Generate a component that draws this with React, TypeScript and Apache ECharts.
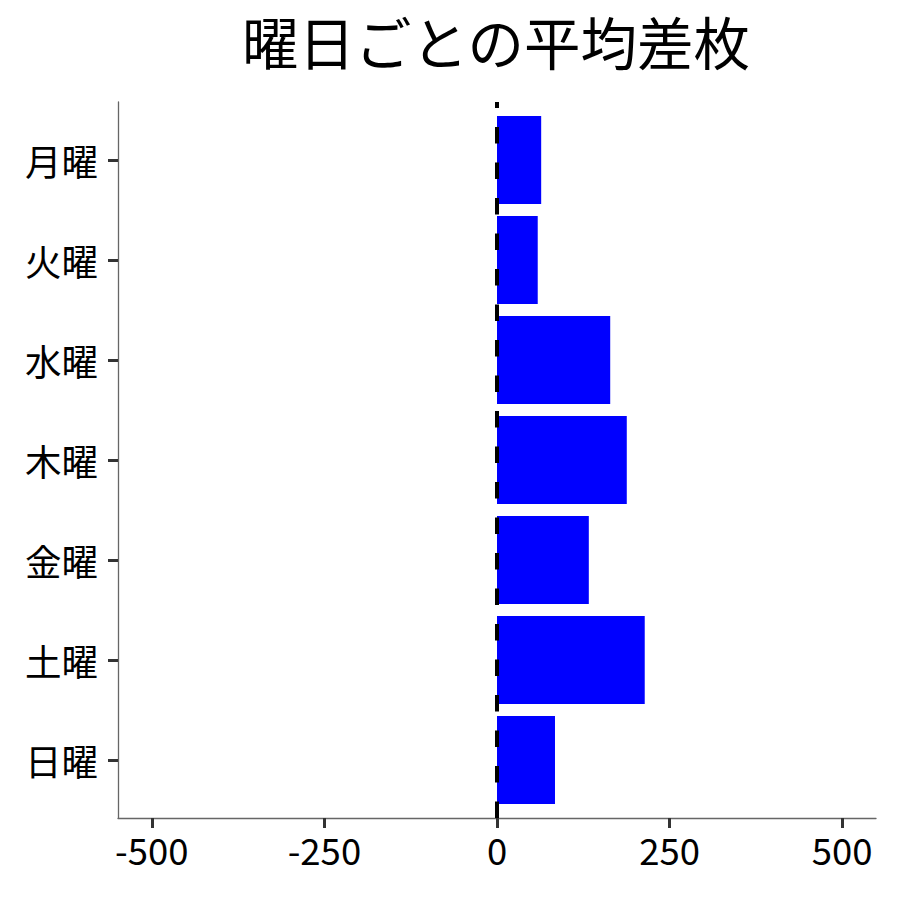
import { useEffect, useRef } from "react";
import * as echarts from "echarts";

const FONT = "Noto Sans CJK JP";

const days = ["月曜", "火曜", "水曜", "木曜", "金曜", "土曜", "日曜"];
const avgDiff = [64, 59, 164, 188, 133, 214, 84];
const xTicks = [-500, -250, 0, 250, 500];

export default function App() {
	const chartElementRef = useRef<HTMLDivElement | null>(null);

	useEffect(() => {
		document.body.style.margin = "0";
		if (!chartElementRef.current) return;
		const chart = echarts.init(chartElementRef.current, null, { renderer: "svg" });

		const option: echarts.EChartsOption = {
			animation: false,
			backgroundColor: "#ffffff",
			title: {
				text: "曜日ごとの平均差枚",
				left: 491,
				top: 5,
				textAlign: "center",
				textStyle: {
					fontFamily: FONT,
					fontSize: 56.5,
					lineHeight: 60,
					fontWeight: "normal",
					color: "#000",
				},
			},
			grid: [
				// outer frame: spines, x ticks, dashed zero line
				{ left: 118, right: 24, top: 102, bottom: 82 },
				// inner area: bars and category labels
				{ left: 118, right: 24, top: 110, bottom: 90 },
			],
			xAxis: [
				{
					type: "value",
					gridIndex: 0,
					min: -549,
					max: 549,
					splitLine: { show: false },
					axisLine: { show: true, onZero: false, lineStyle: { color: "#666", width: 1.3 } },
					axisTick: {
						show: true,
						customValues: xTicks,
						length: 10,
						lineStyle: { color: "#333", width: 3 },
					},
					axisLabel: {
						customValues: xTicks,
						margin: 13,
						fontFamily: FONT,
						fontSize: 36.5,
						color: "#000",
					},
				},
				{ type: "value", gridIndex: 1, min: -549, max: 549, show: false },
			],
			yAxis: [
				{
					type: "value",
					gridIndex: 0,
					min: 0,
					max: 1,
					splitLine: { show: false },
					axisLine: { show: true, onZero: false, lineStyle: { color: "#666", width: 1.3 } },
					axisTick: { show: false },
					axisLabel: { show: false },
				},
				{
					type: "category",
					gridIndex: 1,
					data: days,
					inverse: true,
					axisLine: { show: false, onZero: false },
					axisTick: {
						show: true,
						alignWithLabel: true,
						length: 10,
						lineStyle: { color: "#333", width: 3 },
					},
					axisLabel: { margin: 20, fontFamily: FONT, fontSize: 36.5, color: "#000" },
				},
			],
			series: [
				{
					type: "bar",
					xAxisIndex: 1,
					yAxisIndex: 1,
					data: avgDiff,
					barWidth: "88%",
					itemStyle: { color: "#0000ff" },
				},
				{
					type: "line",
					xAxisIndex: 0,
					yAxisIndex: 0,
					data: [
						[0, 0],
						[0, 1],
					],
					showSymbol: false,
					z: 5,
					lineStyle: { color: "#000", width: 4, type: [16.5, 19] },
				},
			],
		};
		chart.setOption(option);

		return () => {
			chart.dispose();
		};
	}, []);

	return <div ref={chartElementRef} style={{ width: 900, height: 900 }} />;
}
